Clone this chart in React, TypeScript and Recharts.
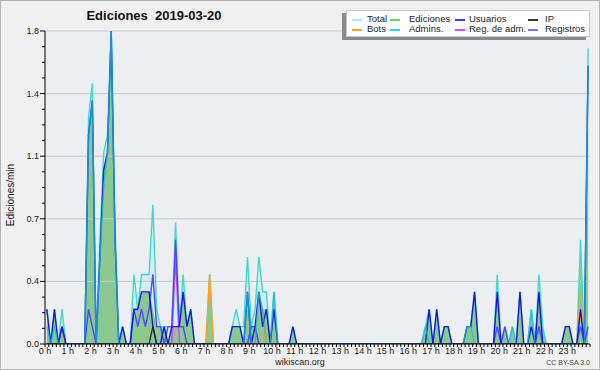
import React from 'react';
import { ComposedChart, Area, Line, XAxis, YAxis, ReferenceLine, ReferenceArea } from 'recharts';

// 10-minute buckets, 144 per day (values in ediciones/min)
const hourLabels = [
  '0 h', '1 h', '2 h', '3 h', '4 h', '5 h', '6 h', '7 h', '8 h', '9 h', '10 h', '11 h',
  '12 h', '13 h', '14 h', '15 h', '16 h', '17 h', '18 h', '19 h', '20 h', '21 h', '22 h', '23 h',
];

const total = [
  0.2, 0, 0.2, 0, 0.2, 0, 0, 0, 0, 0, 0, 1.3,
  1.5, 0, 0.6, 1.1, 1.2, 1.8, 0.7, 0, 0.1, 0, 0, 0.4,
  0.2, 0.4, 0.4, 0.4, 0.8, 0.2, 0.1, 0.1, 0.1, 0.1, 0.7, 0.1,
  0.4, 0.1, 0.2, 0, 0, 0, 0, 0.4, 0, 0, 0, 0,
  0, 0.1, 0.2, 0.1, 0.1, 0.5, 0.1, 0.2, 0.5, 0.3, 0.3, 0,
  0.3, 0, 0, 0, 0, 0.1, 0, 0, 0, 0, 0, 0,
  0, 0, 0, 0, 0, 0, 0, 0, 0, 0, 0, 0,
  0, 0, 0, 0, 0, 0, 0, 0, 0, 0, 0, 0,
  0, 0, 0, 0, 0.1, 0.2, 0, 0.2, 0, 0.1, 0.1, 0,
  0, 0, 0, 0.1, 0.1, 0.3, 0, 0, 0, 0, 0, 0.4,
  0, 0.1, 0, 0.1, 0, 0.3, 0, 0, 0.2, 0, 0.4, 0.1,
  0, 0, 0, 0, 0, 0.1, 0.1, 0, 0, 0.6, 0, 1.7,
];

const ediciones = [
  0.2, 0, 0.2, 0, 0.1, 0, 0, 0, 0, 0, 0, 1.2,
  1.4, 0, 0.5, 1.0, 1.1, 1.8, 0.6, 0, 0.1, 0, 0, 0.2,
  0.2, 0.3, 0.3, 0.3, 0.2, 0.1, 0.1, 0.1, 0, 0.1, 0.1, 0.1,
  0.3, 0.1, 0.2, 0, 0, 0, 0, 0.4, 0, 0, 0, 0,
  0, 0.1, 0.1, 0.1, 0, 0.3, 0.1, 0.1, 0.3, 0.2, 0.2, 0,
  0.3, 0, 0, 0, 0, 0.1, 0, 0, 0, 0, 0, 0,
  0, 0, 0, 0, 0, 0, 0, 0, 0, 0, 0, 0,
  0, 0, 0, 0, 0, 0, 0, 0, 0, 0, 0, 0,
  0, 0, 0, 0, 0.1, 0.2, 0, 0.2, 0, 0.1, 0.1, 0,
  0, 0, 0, 0.1, 0.1, 0.3, 0, 0, 0, 0, 0, 0.3,
  0, 0.1, 0, 0.1, 0, 0.3, 0, 0, 0.2, 0, 0.3, 0.1,
  0, 0, 0, 0, 0, 0.1, 0.1, 0, 0, 0.5, 0, 1.6,
];

const usuarios = [
  0.2, 0, 0.2, 0, 0.1, 0, 0, 0, 0, 0, 0, 1.2,
  1.4, 0, 0.5, 1.0, 1.1, 1.8, 0.6, 0, 0.1, 0, 0, 0.2,
  0.2, 0.3, 0.3, 0.3, 0.1, 0, 0, 0.1, 0, 0.1, 0.1, 0.1,
  0.3, 0.1, 0.2, 0, 0, 0, 0, 0, 0, 0, 0, 0,
  0, 0.1, 0.1, 0.1, 0, 0.3, 0, 0.1, 0.3, 0.1, 0.2, 0,
  0.2, 0, 0, 0, 0, 0.1, 0, 0, 0, 0, 0, 0,
  0, 0, 0, 0, 0, 0, 0, 0, 0, 0, 0, 0,
  0, 0, 0, 0, 0, 0, 0, 0, 0, 0, 0, 0,
  0, 0, 0, 0, 0, 0.2, 0, 0.2, 0, 0.1, 0.1, 0,
  0, 0, 0, 0.1, 0.1, 0.3, 0, 0, 0, 0, 0, 0.3,
  0, 0, 0, 0, 0, 0.3, 0, 0, 0.1, 0, 0.3, 0,
  0, 0, 0, 0, 0, 0.1, 0.1, 0, 0, 0.2, 0, 1.6,
];

const ip = [
  0, 0, 0, 0, 0, 0, 0, 0, 0, 0, 0, 0,
  0, 0, 0, 0, 0, 0, 0, 0, 0, 0, 0, 0,
  0, 0, 0, 0, 0.1, 0, 0, 0, 0, 0, 0, 0,
  0, 0, 0, 0, 0, 0, 0, 0, 0, 0, 0, 0,
  0, 0, 0, 0, 0, 0, 0, 0, 0, 0, 0, 0,
  0, 0, 0, 0, 0, 0, 0, 0, 0, 0, 0, 0,
  0, 0, 0, 0, 0, 0, 0, 0, 0, 0, 0, 0,
  0, 0, 0, 0, 0, 0, 0, 0, 0, 0, 0, 0,
  0, 0, 0, 0, 0, 0, 0, 0, 0, 0, 0, 0,
  0, 0, 0, 0, 0, 0, 0, 0, 0, 0, 0, 0,
  0, 0, 0, 0, 0, 0, 0, 0, 0, 0, 0, 0,
  0, 0, 0, 0, 0, 0, 0, 0, 0, 0, 0, 0,
];

const bots = [
  0, 0, 0, 0, 0, 0, 0, 0, 0, 0, 0, 0,
  0, 0, 0, 0, 0, 0, 0, 0, 0, 0, 0, 0,
  0, 0, 0, 0, 0, 0, 0, 0, 0, 0, 0, 0,
  0, 0, 0, 0, 0, 0, 0, 0.4, 0, 0, 0, 0,
  0, 0, 0, 0, 0, 0, 0, 0, 0, 0, 0.1, 0,
  0, 0, 0, 0, 0, 0, 0, 0, 0, 0, 0, 0,
  0, 0, 0, 0, 0, 0, 0, 0, 0, 0, 0, 0,
  0, 0, 0, 0, 0, 0, 0, 0, 0, 0, 0, 0,
  0, 0, 0, 0, 0, 0, 0, 0, 0, 0, 0, 0,
  0, 0, 0, 0, 0, 0, 0, 0, 0, 0, 0, 0,
  0, 0, 0, 0, 0, 0, 0, 0, 0, 0, 0, 0,
  0, 0, 0, 0, 0, 0, 0, 0, 0, 0.3, 0, 0,
];

const admins = [
  0.1, 0, 0.1, 0, 0, 0, 0, 0, 0, 0, 0, 1.2,
  1.4, 0, 0.5, 0.9, 1.1, 1.8, 0.6, 0, 0, 0, 0, 0,
  0, 0, 0, 0, 0, 0, 0, 0, 0, 0, 0, 0,
  0, 0, 0, 0, 0, 0, 0, 0, 0, 0, 0, 0,
  0, 0, 0, 0, 0, 0.3, 0, 0, 0.3, 0.2, 0, 0,
  0.3, 0, 0, 0, 0, 0, 0, 0, 0, 0, 0, 0,
  0, 0, 0, 0, 0, 0, 0, 0, 0, 0, 0, 0,
  0, 0, 0, 0, 0, 0, 0, 0, 0, 0, 0, 0,
  0, 0, 0, 0, 0.1, 0, 0, 0, 0, 0, 0, 0,
  0, 0, 0, 0.1, 0.1, 0, 0, 0, 0, 0, 0, 0,
  0, 0, 0, 0.1, 0, 0, 0, 0, 0.2, 0, 0, 0,
  0, 0, 0, 0, 0, 0, 0, 0, 0, 0, 0, 1.6,
];

const regAdm = [
  0, 0, 0, 0, 0, 0, 0, 0, 0, 0, 0, 0,
  0, 0, 0, 0, 0, 0, 0, 0, 0, 0, 0, 0,
  0, 0, 0, 0, 0, 0, 0, 0, 0, 0, 0.5, 0,
  0, 0, 0, 0, 0, 0, 0, 0, 0, 0, 0, 0,
  0, 0, 0, 0, 0, 0, 0.1, 0.1, 0, 0, 0, 0,
  0, 0, 0, 0, 0, 0, 0, 0, 0, 0, 0, 0,
  0, 0, 0, 0, 0, 0, 0, 0, 0, 0, 0, 0,
  0, 0, 0, 0, 0, 0, 0, 0, 0, 0, 0, 0,
  0, 0, 0, 0, 0, 0, 0, 0, 0, 0, 0, 0,
  0, 0, 0, 0, 0, 0, 0, 0, 0, 0, 0, 0,
  0, 0, 0, 0, 0, 0, 0, 0, 0, 0, 0, 0,
  0, 0, 0, 0, 0, 0, 0, 0, 0, 0, 0, 0,
];

const registros = [
  0, 0, 0, 0, 0.1, 0, 0, 0, 0, 0, 0, 0.2,
  0.1, 0, 0, 0, 0, 0, 0, 0, 0, 0, 0, 0.2,
  0.1, 0.2, 0.1, 0.2, 0.4, 0.1, 0.1, 0, 0.1, 0.1, 0.6, 0.1,
  0.1, 0, 0, 0, 0, 0, 0, 0, 0, 0, 0, 0,
  0, 0, 0, 0, 0, 0, 0.1, 0.1, 0, 0, 0, 0,
  0, 0, 0, 0, 0, 0, 0, 0, 0, 0, 0, 0,
  0, 0, 0, 0, 0, 0, 0, 0, 0, 0, 0, 0,
  0, 0, 0, 0, 0, 0, 0, 0, 0, 0, 0, 0,
  0, 0, 0, 0, 0, 0, 0, 0, 0, 0, 0, 0,
  0, 0, 0, 0, 0, 0, 0, 0, 0, 0, 0, 0.1,
  0, 0.1, 0, 0, 0, 0, 0, 0, 0, 0, 0.1, 0,
  0, 0, 0, 0, 0, 0, 0, 0, 0, 0.1, 0, 0.1,
];

const legendItems = [
  { name: 'Total', color: '#a8ece8', col: 0, row: 0 },
  { name: 'Ediciones', color: '#70d070', col: 1, row: 0 },
  { name: 'Usuarios', color: '#3838f8', col: 2, row: 0 },
  { name: 'IP', color: '#333333', col: 3, row: 0 },
  { name: 'Bots', color: '#ffa030', col: 0, row: 1 },
  { name: 'Admins.', color: '#30d8e8', col: 1, row: 1 },
  { name: 'Reg. de adm.', color: '#e040f0', col: 2, row: 1 },
  { name: 'Registros', color: '#7878ff', col: 3, row: 1 },
];

const FONT = '"Liberation Sans", Arial, sans-serif';
const xTicks = Array.from({ length: 145 }, (_, i) => i);
const yTicks = Array.from({ length: 21 }, (_, i) => +(i * 0.09).toFixed(2));
const gridLines = [0.36, 0.72, 1.08, 1.44, 1.8];

const data = total.map((v, i) => ({
  t: i + 0.5,
  total: v,
  ediciones: ediciones[i],
  usuarios: usuarios[i],
  ip: ip[i],
  bots: bots[i],
  admins: admins[i],
  regAdm: regAdm[i],
  registros: registros[i],
}));

const XTick = (props: any) => {
  const { x, y, payload } = props;
  const v = Math.round(payload.value);
  const major = v % 6 === 0;
  const label = major && v < 144 ? hourLabels[v / 6] : null;
  return (
    <g>
      <line x1={x} x2={x} y1={y} y2={y + 3} stroke="#000" strokeWidth={1} />
      {label && (
        <text x={x} y={y + 10} textAnchor="middle" fontSize={9} fill="#222" fontFamily={FONT}>
          {label}
        </text>
      )}
    </g>
  );
};

const YTick = (props: any) => {
  const { x, y, payload } = props;
  const idx = Math.round(payload.value / 0.09);
  const major = idx % 4 === 0;
  return (
    <g>
      <line x1={x - (major ? 5 : 3)} x2={x} y1={y} y2={y} stroke="#000" strokeWidth={1} />
      {major && (
        <text x={x - 6} y={y + 3} textAnchor="end" fontSize={9} fill="#222" fontFamily={FONT}>
          {payload.value.toFixed(1)}
        </text>
      )}
    </g>
  );
};

export default function App() {
  return (
    <div style={{ position: 'relative', width: 600, height: 370, background: '#f0f0f0', fontFamily: FONT, overflow: 'hidden' }}>
      <style>{`body{margin:0}`}</style>
      <ComposedChart width={600} height={370} data={data} margin={{ top: 31, right: 10, bottom: 0, left: 0 }}>
        <ReferenceArea x1={0} x2={144} y1={0} y2={1.8} fill="#eceef1" fillOpacity={1} stroke="none" />
        {gridLines.map(g => (
          <ReferenceLine key={g} y={g} stroke="#c8c8c8" strokeWidth={1} />
        ))}
        <Area type="linear" dataKey="total" stroke="none" fill="#40e0d0" fillOpacity={0.12} isAnimationActive={false} />
        <Area type="linear" dataKey="ediciones" stroke="none" fill="#86c68a" fillOpacity={0.95} isAnimationActive={false} />
        <Line type="linear" dataKey="total" stroke="#40d8cc" strokeWidth={1.4} dot={false} isAnimationActive={false} />
        <Line type="linear" dataKey="bots" stroke="#ffa020" strokeWidth={1.4} dot={false} isAnimationActive={false} />
        <Line type="linear" dataKey="regAdm" stroke="#e040f0" strokeWidth={1.4} dot={false} isAnimationActive={false} />
        <Line type="linear" dataKey="registros" stroke="#4848ff" strokeWidth={1.4} dot={false} isAnimationActive={false} />
        <Line type="linear" dataKey="usuarios" stroke="#1818d8" strokeWidth={1.4} dot={false} isAnimationActive={false} />
        <Line type="linear" dataKey="admins" stroke="#18b8e0" strokeWidth={1.4} strokeOpacity={0.75} dot={false} isAnimationActive={false} />
        <Line type="linear" dataKey="ip" stroke="#222" strokeWidth={1.2} dot={false} isAnimationActive={false} />
        <XAxis
          dataKey="t"
          type="number"
          domain={[0, 144]}
          ticks={xTicks}
          interval={0}
          height={26}
          tickSize={0}
          tickMargin={0}
          tickLine={false}
          axisLine={{ stroke: '#000' }}
          tick={<XTick />}
          allowDataOverflow
        />
        <YAxis
          type="number"
          domain={[0, 1.8]}
          ticks={yTicks}
          interval={0}
          width={45}
          tickSize={0}
          tickMargin={0}
          tickLine={false}
          axisLine={{ stroke: '#000' }}
          tick={<YTick />}
          allowDataOverflow
        />
      </ComposedChart>

      <div style={{ position: 'absolute', left: 0, top: 8, width: 308, textAlign: 'center', fontWeight: 'bold', fontSize: 13, lineHeight: '16px', color: '#111', whiteSpace: 'pre' }}>
        {'Ediciones  2019-03-20'}
      </div>

      <div style={{ position: 'absolute', left: 10, top: 195, transform: 'translate(-50%, -50%) rotate(-90deg)', fontSize: 10, whiteSpace: 'nowrap', color: '#111' }}>
        Ediciones/min
      </div>

      <div style={{ position: 'absolute', left: 346, top: 10, width: 244, height: 27, background: '#fff', border: '1px solid #c8c8c8', boxShadow: '-4px 3px 0 #8a8a8a', boxSizing: 'border-box' }}>
        {legendItems.map(it => {
          const lineX = [5, 43, 108, 181][it.col];
          const textX = [20, 62, 122, 198][it.col];
          const cy = it.row === 0 ? 8 : 18;
          return (
            <React.Fragment key={it.name}>
              <div style={{ position: 'absolute', left: lineX, top: cy, width: 10, height: 1.5, background: it.color }} />
              <div style={{ position: 'absolute', left: textX, top: cy - 6, fontSize: 9.5, lineHeight: '12px', color: '#222', whiteSpace: 'nowrap' }}>
                {it.name}
              </div>
            </React.Fragment>
          );
        })}
      </div>

      <div style={{ position: 'absolute', left: 250, width: 100, top: 357, textAlign: 'center', fontSize: 9, lineHeight: '10px', color: '#222' }}>
        wikiscan.org
      </div>
      <div style={{ position: 'absolute', right: 10, top: 358, fontSize: 7, lineHeight: '9px', color: '#444' }}>
        CC BY-SA 3.0
      </div>
      <div style={{ position: 'absolute', left: 0, top: 0, width: 600, height: 370, border: '1px solid #b4b4b4', boxSizing: 'border-box', pointerEvents: 'none' }} />
    </div>
  );
}
